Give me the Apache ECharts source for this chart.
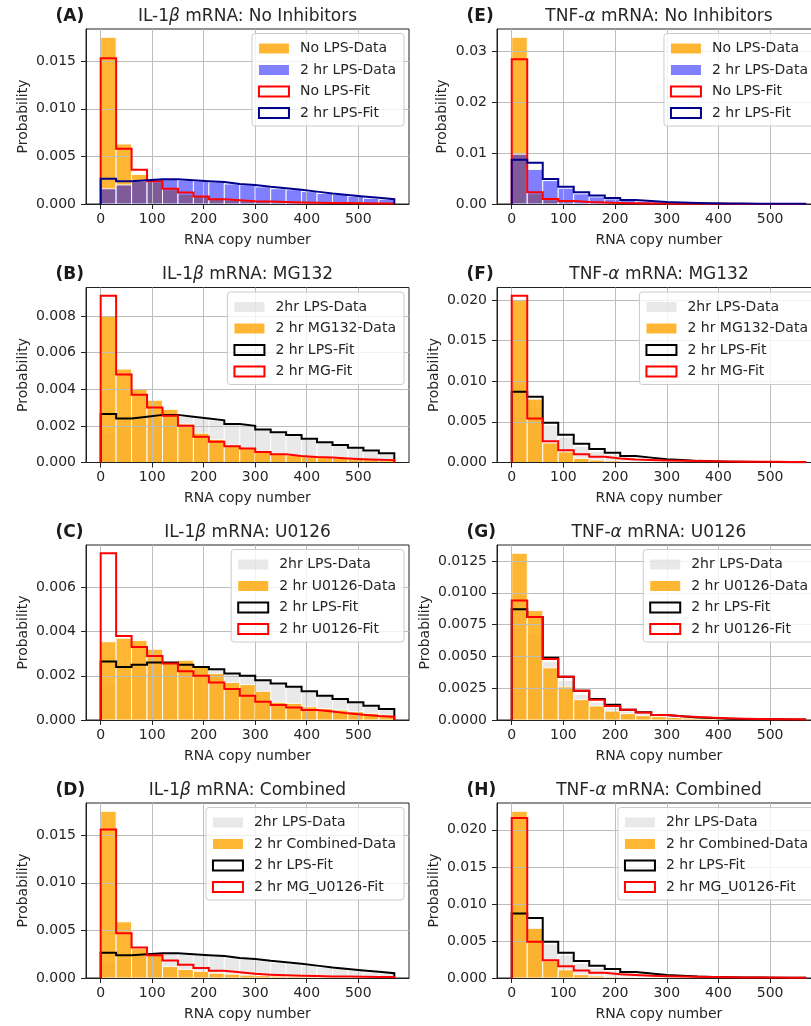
<!DOCTYPE html>
<html><head><meta charset="utf-8">
<script src="https://cdn.jsdelivr.net/npm/echarts@6/dist/echarts.min.js"></script>
<style>html,body{margin:0;padding:0;background:#fff;overflow:hidden}#c{width:811px;height:1026px}</style>
</head><body><div id="c"></div>
<script>
// ---------- data ----------
const binEdges = [0,30,60,90,120,150,180,210,240,270,300,330,360,390,420,450,480,510,540,570];
const xTicks = [0,100,200,300,400,500];

// IL-1beta
const il1bLpsData     = [0.0016,0.0020,0.0024,0.0025,0.0026,0.0025,0.0024,0.0023,0.0021,0.0020,0.0018,0.0016,0.0015,0.0013,0.0011,0.0010,0.0008,0.0006,0.0005];
const il1bLpsFit      = [0.00265,0.0024,0.0025,0.0026,0.0026,0.0025,0.0024,0.0023,0.0021,0.0020,0.0018,0.00165,0.0015,0.0013,0.0011,0.00095,0.0008,0.00065,0.0005];
const il1bNoLpsData   = [0.0175,0.0063,0.0031,0.0023,0.0015,0.0010,0.0008,0.0005,0.0004,0.0003,0.00025,0.0002,0.00015,0.00012,0.0001,0.0001,0.00008,0.00006,0.00005];
const il1bNoLpsFit    = [0.0153,0.0058,0.0036,0.0024,0.0016,0.0012,0.0008,0.0005,0.0004,0.0003,0.00025,0.0002,0.00015,0.00012,0.0001,0.0001,0.00008,0.00006,0.00005];
const il1bMg132Data   = [0.0080,0.0051,0.0040,0.0034,0.0029,0.0021,0.0016,0.00126,0.00095,0.00076,0.00058,0.00045,0.0004,0.00035,0.00027,0.00024,0.00018,0.00015,0.0001];
const il1bMgFit       = [0.0091,0.0048,0.0037,0.0030,0.00255,0.0020,0.0014,0.00113,0.00089,0.00076,0.00058,0.00045,0.00036,0.0003,0.00027,0.00022,0.00018,0.00015,0.00013];
const il1bU0126Data   = [0.00354,0.0037,0.0036,0.0032,0.0026,0.0027,0.0024,0.0021,0.0017,0.0016,0.0013,0.0008,0.00075,0.0006,0.00052,0.00045,0.00038,0.0003,0.00022];
const il1bU0126Fit    = [0.00754,0.0038,0.0033,0.0029,0.00256,0.0022,0.0020,0.0017,0.0014,0.0011,0.00083,0.00068,0.00056,0.00045,0.00038,0.0003,0.00024,0.00018,0.00015];
const il1bCombData    = [0.0175,0.0059,0.0031,0.0024,0.0012,0.0009,0.0007,0.0005,0.0004,0.0003,0.00025,0.0002,0.00015,0.00012,0.0001,0.00008,0.00006,0.00005,0.00004];
const il1bCombFit     = [0.0156,0.0047,0.0032,0.0024,0.00185,0.0014,0.00105,0.00077,0.0006,0.00045,0.00035,0.00028,0.00024,0.0002,0.00017,0.00015,0.00012,0.0001,0.0001];

// TNF-alpha
const tnfLpsData      = [0.0098,0.0068,0.0046,0.0031,0.0020,0.0014,0.0010,0.0007,0.0005,0.0004,0.0003,0.0002,0.00015,0.0001,0.00008,0.00006,0.00005,0.00004,0.00003];
const tnfLpsFit       = [0.0087,0.0081,0.0049,0.0034,0.0023,0.00165,0.0012,0.0008,0.0006,0.0004,0.0003,0.0002,0.00015,0.0001,0.00008,0.00006,0.00005,0.00004,0.00003];
const tnfNoLpsData    = [0.0328,0.0020,0.0008,0.0004,0.0002,0.0001,0.00008,0.00005,0.00003,0.00002,0.00001,0.00001,0,0,0,0,0,0,0];
const tnfNoLpsFit     = [0.0285,0.0023,0.0010,0.0006,0.0004,0.0003,0.0002,0.00015,0.0001,0.00008,0.00006,0.00005,0.00004,0.00003,0.00002,0.00002,0.00001,0.00001,0.00001];
const tnfMg132Data    = [0.0200,0.0078,0.0024,0.0013,0.0005,0.0003,0.0002,0.0001,0.00008,0.00005,0.00004,0.00003,0.00002,0.00002,0.00001,0.00001,0.00001,0.00001,0.00001];
const tnfMgFit        = [0.0205,0.0054,0.0026,0.0015,0.0010,0.0007,0.0005,0.00037,0.0003,0.00025,0.0002,0.00017,0.00014,0.00012,0.0001,0.00009,0.00008,0.00007,0.00006];
const tnfU0126Data    = [0.0131,0.0086,0.0041,0.0026,0.0016,0.0011,0.0007,0.0005,0.00034,0.00026,0.0002,0.00015,0.0001,0.00008,0.00006,0.00005,0.00004,0.00003,0.00002];
const tnfU0126Fit     = [0.0094,0.0081,0.0048,0.0034,0.0023,0.0016,0.0011,0.0008,0.00058,0.0004,0.0003,0.00024,0.00018,0.00014,0.0001,0.00008,0.00006,0.00005,0.00004];
const tnfCombData     = [0.0225,0.0067,0.0023,0.0011,0.00045,0.00027,0.00015,0.0001,0.00007,0.00005,0.00004,0.00003,0.00002,0.00002,0.00001,0.00001,0.00001,0.00001,0.00001];
const tnfCombFit      = [0.0216,0.0049,0.0024,0.0016,0.0010,0.0007,0.0005,0.0004,0.0003,0.00025,0.0002,0.00016,0.00013,0.0001,0.00008,0.00007,0.00006,0.00005,0.00004];

// y tick labels
const yTicksA = ['0.000','0.005','0.010','0.015'];
const yTicksB = ['0.000','0.002','0.004','0.006','0.008'];
const yTicksC = ['0.000','0.002','0.004','0.006'];
const yTicksD = ['0.000','0.005','0.010','0.015'];
const yTicksE = ['0.00','0.01','0.02','0.03'];
const yTicksF = ['0.000','0.005','0.010','0.015','0.020'];
const yTicksG = ['0.0000','0.0025','0.0050','0.0075','0.0100','0.0125'];
const yTicksH = ['0.000','0.005','0.010','0.015','0.020'];

// ---------- styles / layout ----------
const FONT = 'DejaVu Sans';
const ORANGE = 'rgba(255,165,0,0.8)';
const BLUE = 'rgba(0,0,255,0.5)';
const GREY = 'rgba(211,211,211,0.5)';
const RED = '#ff0000', NAVY = '#00008b', BLACK = '#000000';
const colLeft = [86, 497], colWidth = [323, 324];
const rowTop = [29, 287.5, 545, 803], rowH = 175;

function bar(name, data, color){ return {kind:'bar', name, data, color}; }
function step(name, data, color){ return {kind:'step', name, data, color}; }

const panels = [
  {tag:'(A)', gene:'IL-1', greek:'β', cond:'No Inhibitors', row:0, col:0, ticks:yTicksA, series:[
    bar('No LPS-Data', il1bNoLpsData, ORANGE), bar('2 hr LPS-Data', il1bLpsData, BLUE),
    step('No LPS-Fit', il1bNoLpsFit, RED), step('2 hr LPS-Fit', il1bLpsFit, NAVY)]},
  {tag:'(B)', gene:'IL-1', greek:'β', cond:'MG132', row:1, col:0, ticks:yTicksB, series:[
    bar('2hr LPS-Data', il1bLpsData, GREY), bar('2 hr MG132-Data', il1bMg132Data, ORANGE),
    step('2 hr LPS-Fit', il1bLpsFit, BLACK), step('2 hr MG-Fit', il1bMgFit, RED)]},
  {tag:'(C)', gene:'IL-1', greek:'β', cond:'U0126', row:2, col:0, ticks:yTicksC, series:[
    bar('2hr LPS-Data', il1bLpsData, GREY), bar('2 hr U0126-Data', il1bU0126Data, ORANGE),
    step('2 hr LPS-Fit', il1bLpsFit, BLACK), step('2 hr U0126-Fit', il1bU0126Fit, RED)]},
  {tag:'(D)', gene:'IL-1', greek:'β', cond:'Combined', row:3, col:0, ticks:yTicksD, series:[
    bar('2hr LPS-Data', il1bLpsData, GREY), bar('2 hr Combined-Data', il1bCombData, ORANGE),
    step('2 hr LPS-Fit', il1bLpsFit, BLACK), step('2 hr MG_U0126-Fit', il1bCombFit, RED)]},
  {tag:'(E)', gene:'TNF-', greek:'α', cond:'No Inhibitors', row:0, col:1, ticks:yTicksE, series:[
    bar('No LPS-Data', tnfNoLpsData, ORANGE), bar('2 hr LPS-Data', tnfLpsData, BLUE),
    step('No LPS-Fit', tnfNoLpsFit, RED), step('2 hr LPS-Fit', tnfLpsFit, NAVY)]},
  {tag:'(F)', gene:'TNF-', greek:'α', cond:'MG132', row:1, col:1, ticks:yTicksF, series:[
    bar('2hr LPS-Data', tnfLpsData, GREY), bar('2 hr MG132-Data', tnfMg132Data, ORANGE),
    step('2 hr LPS-Fit', tnfLpsFit, BLACK), step('2 hr MG-Fit', tnfMgFit, RED)]},
  {tag:'(G)', gene:'TNF-', greek:'α', cond:'U0126', row:2, col:1, ticks:yTicksG, series:[
    bar('2hr LPS-Data', tnfLpsData, GREY), bar('2 hr U0126-Data', tnfU0126Data, ORANGE),
    step('2 hr LPS-Fit', tnfLpsFit, BLACK), step('2 hr U0126-Fit', tnfU0126Fit, RED)]},
  {tag:'(H)', gene:'TNF-', greek:'α', cond:'Combined', row:3, col:1, ticks:yTicksH, series:[
    bar('2hr LPS-Data', tnfLpsData, GREY), bar('2 hr Combined-Data', tnfCombData, ORANGE),
    step('2 hr LPS-Fit', tnfLpsFit, BLACK), step('2 hr MG_U0126-Fit', tnfCombFit, RED)]}
];

// ---------- helpers ----------
const mctx = document.createElement('canvas').getContext('2d');
mctx.font = '14px ' + FONT;
function textW(s){ return mctx.measureText(s).width; }

function stepPoints(v){
  const pts = [[binEdges[0], 0]];
  v.forEach((y, k) => { pts.push([binEdges[k], y]); pts.push([binEdges[k+1], y]); });
  pts.push([binEdges[binEdges.length-1], 0]);
  return pts;
}
const xSpan = binEdges[binEdges.length-1] - binEdges[0];
const xMin = binEdges[0] - 0.05 * xSpan, xMax = binEdges[binEdges.length-1] + 0.05 * xSpan;

const grid = [], xAxis = [], yAxis = [], series = [], legend = [], graphic = [];
const LEG_PAD = [8, 8, 6, 6], ICON_W = 30, TEXT_PAD = 6;

panels.forEach((p, i) => {
  const left = colLeft[p.col], width = colWidth[p.col], top = rowTop[p.row];
  grid.push({left, top, width, height: rowH, show: true, borderColor: '#222', borderWidth: 1,
             backgroundColor: 'rgba(0,0,0,0)', outerBoundsMode: 'none', containLabel: false});
  const yMaxData = Math.max(...p.series.map(s => Math.max(...s.data)));
  const tickVals = p.ticks.map(Number);
  const maxLabelW = Math.max(...p.ticks.map(textW));
  xAxis.push({
    type: 'value', gridIndex: i, min: xMin, max: xMax, z: 2,
    name: 'RNA copy number', nameLocation: 'middle', nameGap: 29,
    nameTextStyle: {fontSize: 14, fontFamily: FONT, color: '#262626'},
    axisLine: {show: true, onZero: false, lineStyle: {color: '#222', width: 1}},
    axisTick: {show: true, length: 5, customValues: xTicks, lineStyle: {color: '#222'}},
    axisLabel: {customValues: xTicks, fontSize: 14, fontFamily: FONT, color: '#262626', margin: 8},
    splitLine: {show: true, lineStyle: {color: '#bdbdbd', width: 1}}
  });
  yAxis.push({
    type: 'value', gridIndex: i, min: 0, max: yMaxData * 1.05, interval: tickVals[1] - tickVals[0], z: 2,
    name: 'Probability', nameLocation: 'middle', nameGap: 10 + maxLabelW + 6,
    nameTextStyle: {fontSize: 14, fontFamily: FONT, color: '#262626'},
    axisLine: {show: true, onZero: false, lineStyle: {color: '#222', width: 1}},
    axisTick: {show: true, length: 5, customValues: tickVals, lineStyle: {color: '#222'}},
    axisLabel: {customValues: tickVals, fontSize: 14, fontFamily: FONT, color: '#262626', margin: 10,
      formatter: v => { const k = tickVals.findIndex(t => Math.abs(t - v) < 1e-9); return k >= 0 ? p.ticks[k] : ''; }},
    splitLine: {show: true, lineStyle: {color: '#bdbdbd', width: 1}}
  });
  p.series.forEach(s => {
    if (s.kind === 'bar') {
      series.push({
        type: 'custom', name: s.name, xAxisIndex: i, yAxisIndex: i, z: 1, silent: true,
        itemStyle: {color: s.color},
        encode: {x: [0, 1], y: 2},
        data: s.data.map((v, k) => [binEdges[k], binEdges[k+1], v]),
        renderItem: (params, api) => {
          const a = api.coord([api.value(0), api.value(2)]);
          const b = api.coord([api.value(1), 0]);
          return {type: 'rect', shape: {x: a[0], y: a[1], width: b[0] - a[0], height: b[1] - a[1]},
                  style: {fill: s.color, stroke: 'rgba(255,255,255,0.9)', lineWidth: 1}};
        }
      });
    } else {
      series.push({
        type: 'line', name: s.name, xAxisIndex: i, yAxisIndex: i, z: 3, silent: true,
        symbol: 'none', data: stepPoints(s.data),
        lineStyle: {color: s.color, width: 2, join: 'miter'}, itemStyle: {color: s.color}
      });
    }
  });
  const boxW = LEG_PAD[3] + ICON_W + 5 + TEXT_PAD + Math.max(...p.series.map(s => textW(s.name))) + LEG_PAD[1];
  legend.push({
    orient: 'vertical', left: (left + width - 6) - boxW, top: top + 4.5,
    itemWidth: ICON_W, itemHeight: 10, itemGap: 7.5, padding: LEG_PAD,
    backgroundColor: 'rgba(255,255,255,0.8)', borderColor: '#cccccc', borderWidth: 1, borderRadius: 3,
    selectedMode: false,
    textStyle: {fontSize: 14, fontFamily: FONT, color: '#262626', padding: [0, 0, 0, TEXT_PAD]},
    data: p.series.map(s => ({
      name: s.name, icon: 'rect',
      itemStyle: s.kind === 'bar' ? {color: s.color, borderWidth: 0}
                                  : {color: 'rgba(255,255,255,0)', borderColor: s.color, borderWidth: 2}
    }))
  });
  graphic.push({
    type: 'text', x: left + width / 2, y: top - 12.5, silent: true,
    style: {text: '{n|' + p.gene + '}{g|' + p.greek + '}{n| mRNA: ' + p.cond + '}',
      align: 'center', verticalAlign: 'middle',
      rich: {n: {fontSize: 17, fontFamily: FONT, fill: '#262626'},
             g: {fontSize: 17, fontFamily: FONT, fontStyle: 'italic', fill: '#262626'}}}
  });
  graphic.push({
    type: 'text', x: left - 30.5, y: top - 12.5, silent: true,
    style: {text: p.tag, align: 'left', verticalAlign: 'middle', fontSize: 17, fontWeight: 'bold', fontFamily: FONT, fill: '#1a1a1a'}
  });
});

const chart = echarts.init(document.getElementById('c'), null, {renderer: 'canvas'});
chart.setOption({animation: false, backgroundColor: '#ffffff', grid, xAxis, yAxis, series, legend, graphic});
</script>
</body></html>
